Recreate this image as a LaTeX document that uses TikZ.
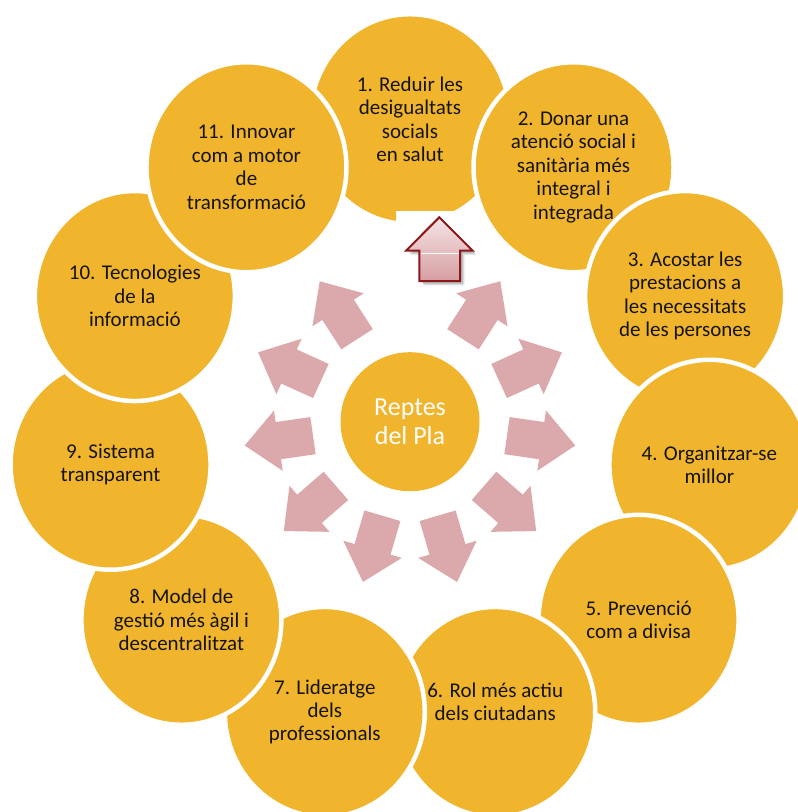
\documentclass[tikz,border=0pt]{standalone}
\usepackage{fontspec}
\setmainfont{Carlito}
\usetikzlibrary{shapes.geometric,calc}
\definecolor{gold}{RGB}{240,181,45}
\definecolor{spokepink}{RGB}{219,169,171}
\definecolor{ink}{RGB}{22,20,18}
\definecolor{arrowred}{RGB}{140,24,26}
\definecolor{arrowtop}{RGB}{245,228,229}
\definecolor{arrowbot}{RGB}{214,158,161}
\begin{document}
\begin{tikzpicture}[x=1pt,y=1pt,
  bubble/.style={ellipse, minimum width=200pt, minimum height=210pt, inner sep=0pt,
    fill=gold, draw=white, line width=4.5pt},
  bubbletext/.style={align=center, text=ink, inner sep=0pt,
    font=\fontsize{21}{23.4}\selectfont},
  hub/.style={circle, minimum size=139pt, inner sep=0pt, fill=gold, text=white,
    align=center, font=\fontsize{26}{29}\selectfont},
  spoke/.style={fill=spokepink},
]
\useasboundingbox (0,0) rectangle (798,-812);
\coordinate (C) at (410,-421.7);

% ring of eleven goals, each one laid over the previous
\node[bubble] (c1) at ($(C)+(90:302.5)$) {};
\node[bubbletext] at (c1) {1. Reduir les\\desigualtats\\socials\\en salut};
\node[bubble] (c2) at ($(C)+(57.273:302.5)$) {};
\node[bubbletext] at (c2) {2. Donar una\\atenció social i\\sanitària més\\integral i\\integrada};
\node[bubble] (c3) at ($(C)+(24.545:302.5)$) {};
\node[bubbletext] at (c3) {3. Acostar les\\prestacions a\\les necessitats\\de les persones};
\node[bubble] (c4) at ($(C)+(-8.182:302.5)$) {};
\node[bubbletext] at (c4) {4. Organitzar-se\\millor};
\node[bubble] (c5) at ($(C)+(-40.909:302.5)$) {};
\node[bubbletext] at (c5) {5. Prevenció\\com a divisa};
\node[bubble] (c6) at ($(C)+(-73.636:302.5)$) {};
\node[bubbletext] at ($(c6)+(0,10)$) {6. Rol més actiu\\dels ciutadans};
\node[bubble] (c7) at ($(C)+(-106.364:302.5)$) {};
\node[bubbletext] at (c7) {7. Lideratge\\dels\\professionals};
\node[bubble] (c8) at ($(C)+(-139.091:302.5)$) {};
\node[bubbletext] at (c8) {8. Model de\\gestió més àgil i\\descentralitzat};
\node[bubble] (c9) at ($(C)+(-171.818:302.5)$) {};
\node[bubbletext] at (c9) {9. Sistema\\transparent};
\node[bubble] (c10) at ($(C)+(155.455:302.5)$) {};
\node[bubbletext] at (c10) {10. Tecnologies\\de la\\informació};
\node[bubble] (c11) at ($(C)+(122.727:302.5)$) {};
\node[bubbletext] at (c11) {11. Innovar\\com a motor\\de\\transformació};

% cut-out under the first goal
\fill[white] (396,-210.7) rectangle (470,-232);

% outward spokes
\foreach \a in {57.273,24.545,-8.182,-40.909,-73.636,-106.364,-139.091,-171.818,155.455,122.727}{
  \begin{scope}[shift={(C)}, rotate=\a]
    \fill[spoke] (98,18.75) -- (133,18.75) -- (133,30.5) -- (167,0)
      -- (133,-30.5) -- (133,-18.75) -- (98,-18.75) -- cycle;
  \end{scope}
}

% highlighted upward arrow with soft shadow
\foreach \o/\op in {4.5/0.08,3.5/0.1,2.5/0.12}{
  \fill[black, opacity=\op]
    (419.3+\o,-281-\o) -- (419.3+\o,-250.7-\o) -- (406+\o,-250.7-\o) -- (439.3+\o,-217.3-\o)
    -- (472.7+\o,-250.7-\o) -- (460+\o,-250.7-\o) -- (460+\o,-281-\o) -- cycle;
}
\path[top color=arrowtop, bottom color=arrowbot]
  (419.3,-281) -- (419.3,-250.7) -- (406,-250.7) -- (439.3,-217.3)
  -- (472.7,-250.7) -- (460,-250.7) -- (460,-281) -- cycle;
\draw[white, line width=1pt] (420.5,-253) -- (458.8,-253);
\draw[arrowred, line width=2pt, line join=miter]
  (419.3,-281) -- (419.3,-250.7) -- (406,-250.7) -- (439.3,-217.3)
  -- (472.7,-250.7) -- (460,-250.7) -- (460,-281) -- cycle;

% centre
\node[hub] (hub) at (C) {Reptes\\del Pla};
\end{tikzpicture}
\end{document}
